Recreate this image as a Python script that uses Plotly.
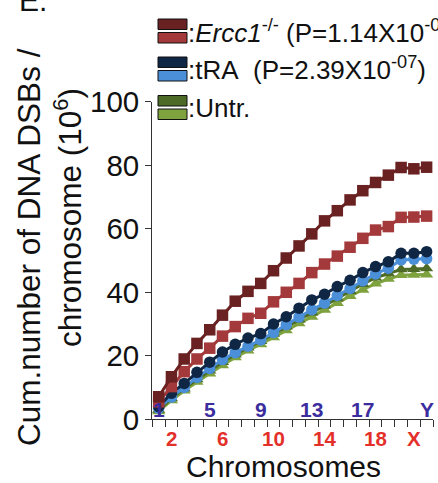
import plotly.graph_objects as go

# Chromosome order along the x axis
chromosomes = [str(i) for i in range(1, 20)] + ["M", "X", "Y"]
upper_labels = ["1", "5", "9", "13", "17", "Y"]
lower_labels = ["2", "6", "10", "14", "18", "X"]

# Cumulative DNA DSBs per chromosome (x10^6)
ercc1_a = [7.1, 13.4, 19.0, 23.9, 28.2, 32.8, 37.2, 40.3, 42.8, 46.8, 50.8, 54.6,
           58.4, 62.5, 65.7, 69.1, 72.0, 74.6, 76.9, 79.3, 78.9, 79.4]
ercc1_b = [5.5, 10.3, 15.0, 19.0, 22.4, 26.2, 29.2, 31.8, 33.4, 37.0, 40.0, 42.8,
           46.2, 48.9, 51.4, 54.2, 57.0, 59.6, 60.7, 63.6, 63.7, 64.0]
tra_a = [4.0, 8.2, 11.3, 14.8, 18.0, 21.2, 23.6, 25.6, 27.0, 30.0, 32.3, 35.0,
         37.6, 39.4, 41.8, 43.8, 46.2, 48.1, 49.6, 52.3, 52.3, 52.8]
tra_b = [3.5, 7.0, 10.0, 13.2, 16.0, 18.8, 21.0, 23.0, 25.0, 27.3, 29.8, 32.2,
         34.5, 36.6, 39.0, 41.2, 43.6, 45.8, 47.6, 50.2, 50.4, 50.6]
untr_a = [3.0, 6.6, 9.7, 12.6, 15.3, 18.0, 20.4, 22.6, 24.6, 26.9, 29.2, 31.4,
          33.6, 35.8, 38.1, 40.4, 42.6, 44.6, 46.0, 47.2, 47.3, 47.5]
untr_b = [2.5, 6.0, 9.0, 11.8, 14.4, 17.0, 19.5, 21.6, 23.6, 25.8, 28.0, 30.2,
          32.3, 34.5, 36.6, 38.8, 40.8, 42.7, 44.2, 45.4, 45.5, 45.6]

x_pos = list(range(1, len(chromosomes) + 1))

W, H = 438, 483
FONT = "Liberation Sans, Arial, sans-serif"


def px(x):
    return x / W


def py(y):
    return 1 - y / H


series = [
    (untr_b, "#7ea23e", "triangle-up"),
    (untr_a, "#4d6b26", "triangle-up"),
    (tra_b, "#4a8fd8", "circle"),
    (tra_a, "#0f2745", "circle"),
    (ercc1_b, "#a3393a", "square"),
    (ercc1_a, "#6a2121", "square"),
]

fig = go.Figure()
for vals, color, sym in series:
    fig.add_trace(go.Scatter(
        x=x_pos, y=vals, mode="lines+markers",
        line=dict(color=color, width=3),
        marker=dict(symbol=sym, size=11.5, color=color, line=dict(width=0)),
        cliponaxis=False, showlegend=False,
    ))

annotations = []
# chromosome labels: alternate above (blue) and below (red) the axis
for lab in upper_labels:
    annotations.append(dict(
        x=chromosomes.index(lab) + 1, y=py(409), xref="x", yref="paper",
        text=f"<b>{lab}</b>", showarrow=False, xanchor="center", yanchor="middle",
        font=dict(family=FONT, size=21, color="#3c2d9e")))
for lab in lower_labels:
    annotations.append(dict(
        x=chromosomes.index(lab) + 1, y=py(438.5), xref="x", yref="paper",
        text=f"<b>{lab}</b>", showarrow=False, xanchor="center", yanchor="middle",
        borderpad=0,
        font=dict(family=FONT, size=20.5, color="#e3302a")))

annotations.append(dict(
    x=px(283), y=py(466), xref="paper", yref="paper", text="Chromosomes",
    showarrow=False, xanchor="center", yanchor="middle", borderpad=0,
    font=dict(family=FONT, size=30, color="#111")))

# y-axis title, two lines
annotations.append(dict(
    x=px(29), y=py(247), xref="paper", yref="paper",
    text="Cum.number of DNA DSBs /", textangle=-90,
    showarrow=False, xanchor="center", yanchor="middle",
    font=dict(family=FONT, size=31.5, color="#111")))
annotations.append(dict(
    x=px(68), y=py(218), xref="paper", yref="paper",
    text="chromosome (10<sup>6</sup>)", textangle=-90,
    showarrow=False, xanchor="center", yanchor="middle",
    font=dict(family=FONT, size=31.5, color="#111")))

# panel letter
annotations.append(dict(
    x=px(17), y=py(0), xref="paper", yref="paper", text="E.",
    showarrow=False, xanchor="left", yanchor="middle",
    font=dict(family=FONT, size=30, color="#111")))

# legend
legend_rows = [
    (31, "#6a2121", "#a3393a",
     ":<i>Ercc1</i><sup>-/-</sup> (P=1.14X10<sup>-07</sup>)"),
    (69, "#0f2745", "#4a8fd8",
     ":tRA\u00a0\u00a0(P=2.39X10<sup>-07</sup>)"),
    (107.5, "#4d6b26", "#7ea23e", ":Untr."),
]
shapes = []
for yc, c1, c2, txt in legend_rows:
    shapes.append(dict(type="rect", xref="paper", yref="paper",
                       x0=px(158), x1=px(187), y0=py(yc - 12), y1=py(yc - 1.5),
                       fillcolor=c1, line=dict(color="#111", width=1)))
    shapes.append(dict(type="rect", xref="paper", yref="paper",
                       x0=px(158), x1=px(187), y0=py(yc + 1.5), y1=py(yc + 12),
                       fillcolor=c2, line=dict(color="#111", width=1)))
    annotations.append(dict(
        x=px(186), y=py(yc), xref="paper", yref="paper", text=txt,
        showarrow=False, xanchor="left", yanchor="middle",
        font=dict(family=FONT, size=26, color="#111")))

fig.update_layout(
    template="none",
    width=W, height=H,
    margin=dict(l=0, r=0, t=0, b=0, pad=0, autoexpand=False),
    paper_bgcolor="white", plot_bgcolor="white",
    annotations=annotations, shapes=shapes,
    xaxis=dict(
        automargin=False,
        domain=[px(152.3), px(433)],
        range=[0.5, len(chromosomes) + 0.5],
        tickvals=[i + 0.5 for i in range(0, len(chromosomes) + 1)],
        showticklabels=False,
        ticks="outside", ticklen=7, tickwidth=1.3, tickcolor="#333",
        showline=True, linecolor="#333", linewidth=1.3,
        showgrid=False, zeroline=False,
    ),
    yaxis=dict(
        automargin=False,
        domain=[py(419.3), py(101.8)],
        range=[0, 100],
        tickvals=[0, 20, 40, 60, 80, 100],
        ticks="outside", ticklen=6, tickwidth=1.3, tickcolor="#333",
        showline=True, linecolor="#333", linewidth=1.3,
        showgrid=False, zeroline=False,
        tickfont=dict(family=FONT, size=29.5, color="#111"),
    ),
)

fig.write_html("out.html")
